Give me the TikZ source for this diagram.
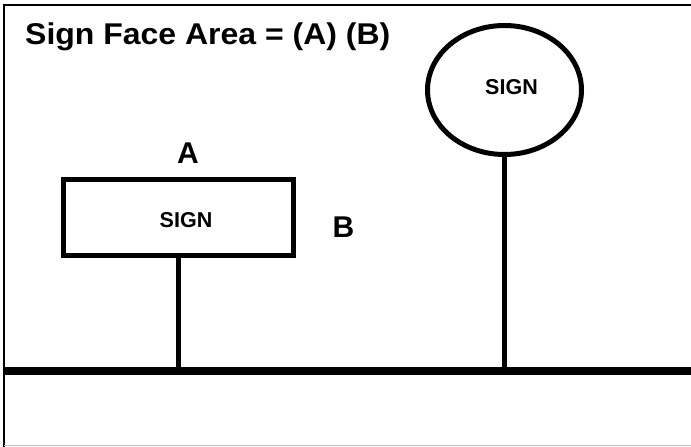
\documentclass[tikz,border=0pt]{standalone}
\usepackage{fontspec}
\setmainfont{Liberation Sans}
\usetikzlibrary{positioning,shapes.geometric}

\tikzset{
  signface/.style={draw=black,line width=5pt,inner sep=0pt},
  pole/.style={line width=5pt},
  ground/.style={line width=8pt},
  dimlabel/.style={anchor=base,inner sep=0pt,font=\bfseries\fontsize{30}{30}\selectfont},
  signtext/.style={anchor=base,inner sep=0pt,font=\bfseries\fontsize{21.5}{21.5}\selectfont}
}

\begin{document}
\begin{tikzpicture}[x=1pt,y=-1pt]
  \useasboundingbox (0,0) rectangle (691,447);
  % frame
  \draw[line width=2pt] (4,447) -- (4,5) -- (691,5);
  \draw[black!25,line width=1pt] (4,445.5) -- (691,445.5);
  \node[anchor=base west,inner sep=0pt,xscale=1.066,font=\bfseries\fontsize{30}{30}\selectfont] (title) at (25,44) {Sign Face Area = (A) (B)};
  % ground
  \coordinate (gl) at (4,371);
  \coordinate (gr) at (691,371);
  \draw[ground] (gl) -- (gr);
  % rectangular sign
  \node[signface,shape=rectangle,minimum width=230pt,minimum height=76pt] (box) at (178,217) {};
  \node[signtext] (boxtext) at (186,227) {SIGN};
  \node[dimlabel] (a) at (188,163) {A};
  \node[dimlabel] (b) at (343.5,237) {B};
  \coordinate (boxfoot) at (178,371);
  \path[pole] (box.south) edge (boxfoot);
  % round sign
  \node[signface,shape=ellipse,minimum width=154pt,minimum height=129pt] (oval) at (504.5,90) {};
  \node[signtext] (ovaltext) at (511.5,94) {SIGN};
  \coordinate (ovalfoot) at (504.5,371);
  \path[pole] (oval.south) edge (ovalfoot);
\end{tikzpicture}
\end{document}
